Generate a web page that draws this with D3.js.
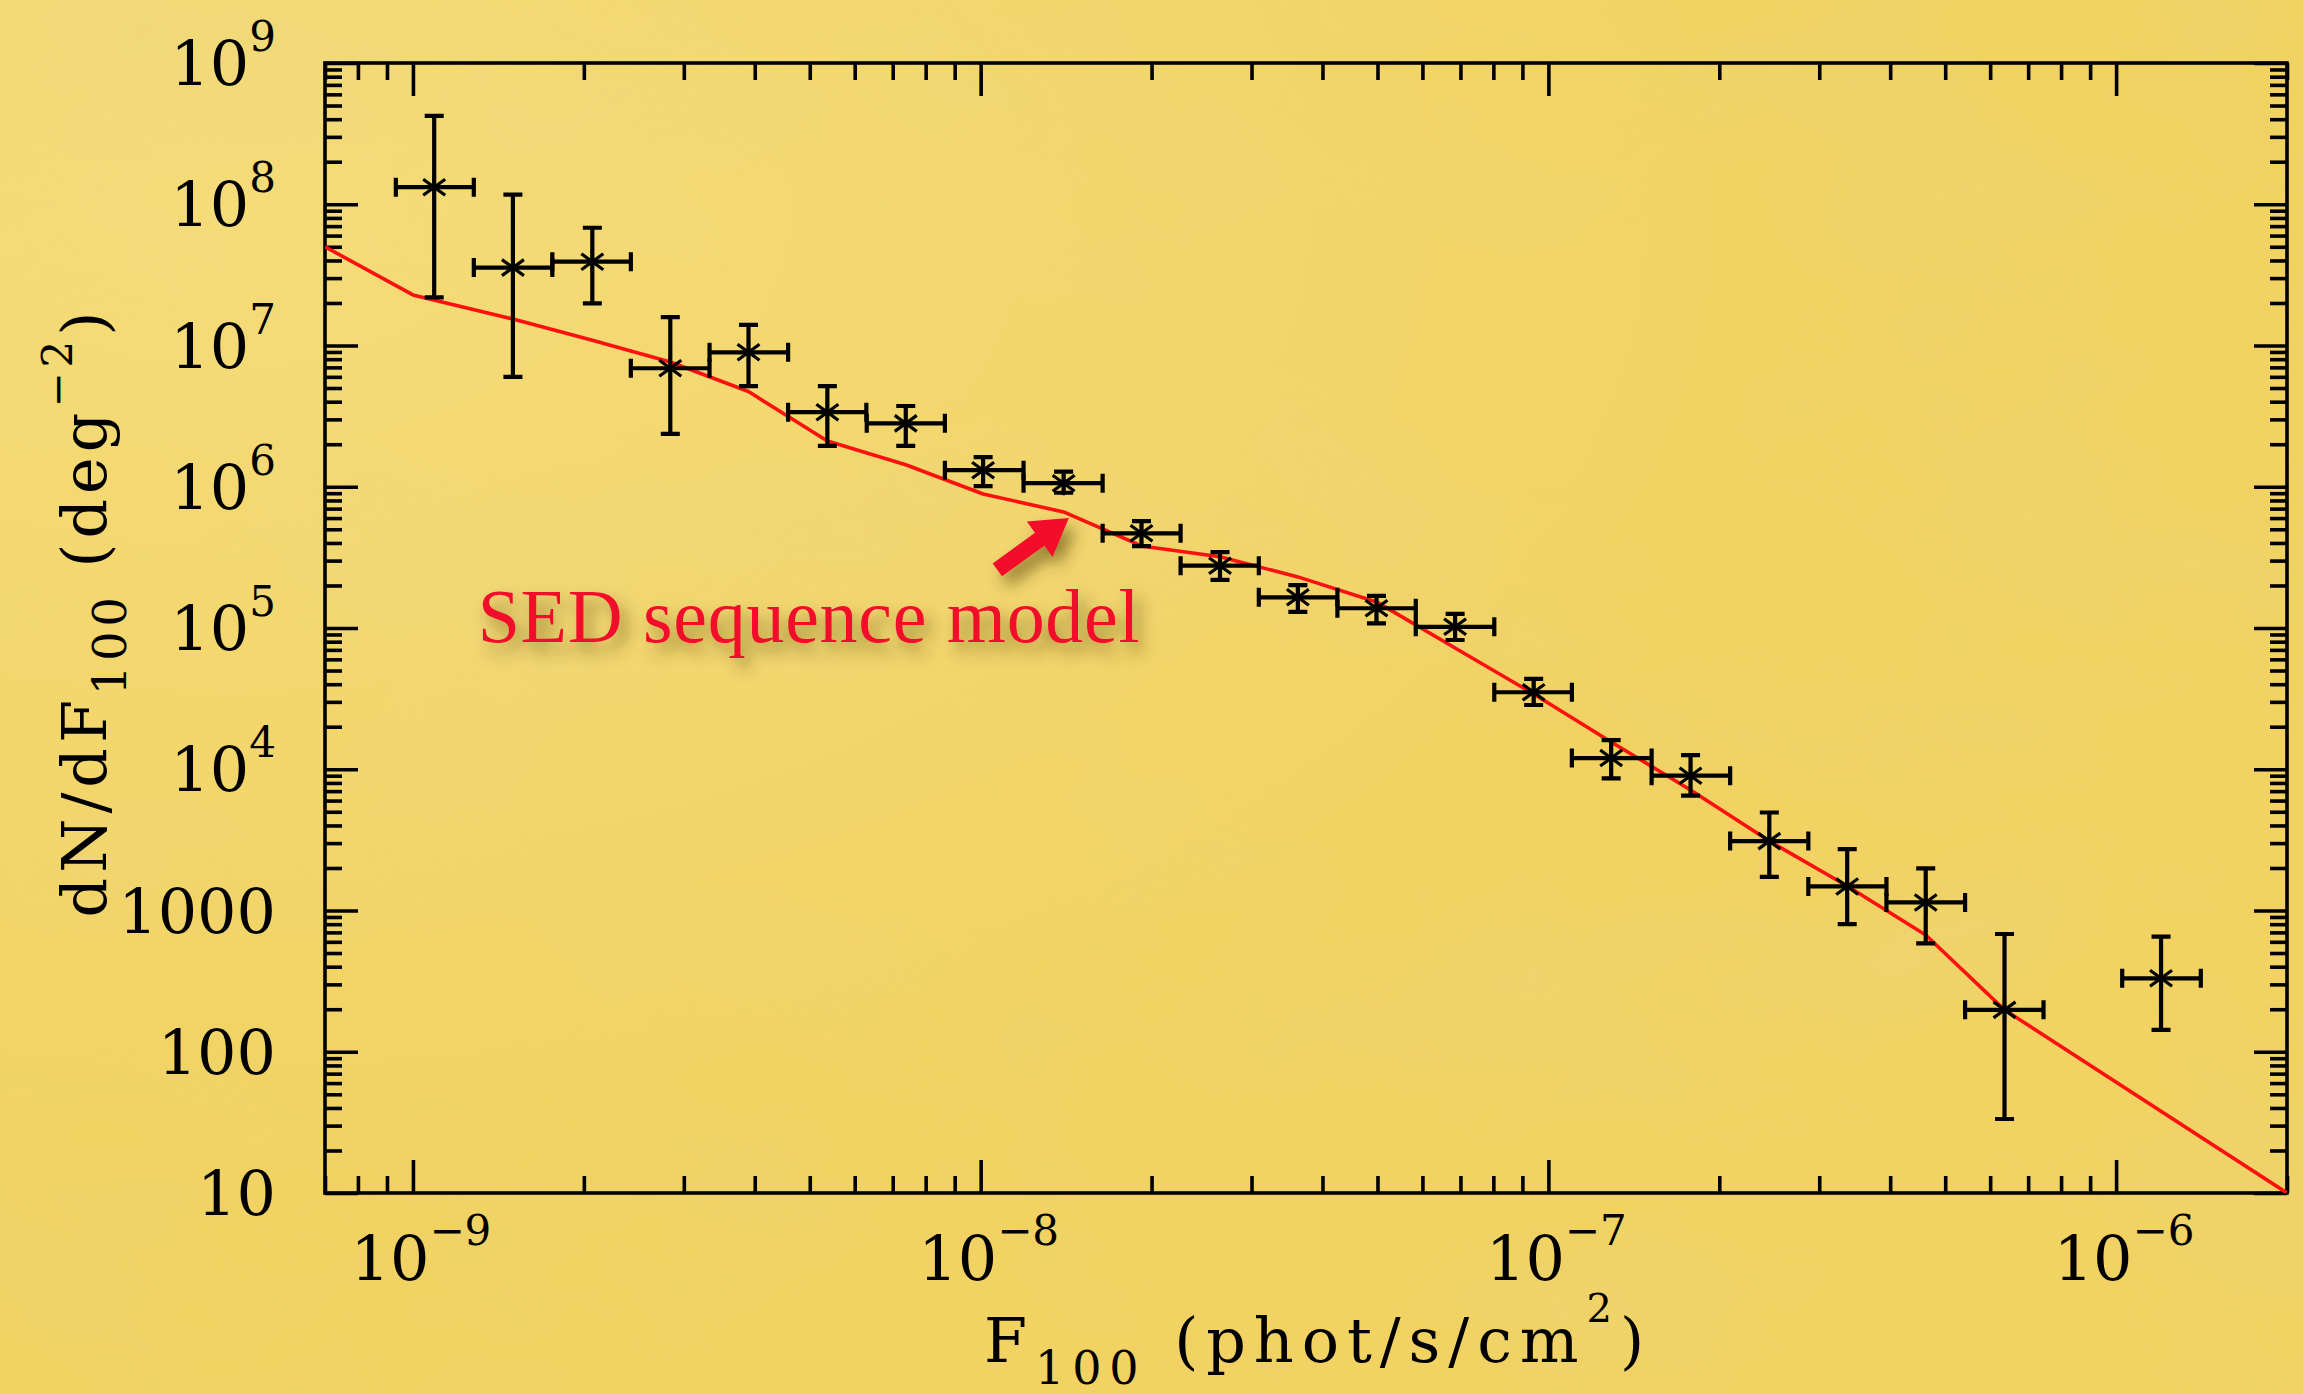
<!DOCTYPE html>
<html>
<head>
<meta charset="utf-8">
<script src="https://cdn.jsdelivr.net/npm/d3@7"></script>
<style>
  html, body { margin: 0; padding: 0; background: #f0d062; overflow: hidden; }
  svg { display: block; }
  .lbl { font-family: "DejaVu Serif", serif; fill: #000; }
</style>
</head>
<body>
<div id="vis"></div>
<script>
// ---- data ----
// flux bins (phot/s/cm^2): centre, lower and upper bin edge
var fluxMid  = [1.09e-9, 1.50e-9, 2.07e-9, 2.84e-9, 3.90e-9, 5.37e-9, 7.38e-9, 1.01e-8, 1.40e-8, 1.92e-8, 2.64e-8,
                3.62e-8, 4.98e-8, 6.85e-8, 9.42e-8, 1.29e-7, 1.78e-7, 2.45e-7, 3.36e-7, 4.62e-7, 6.36e-7, 1.20e-6];
var fluxLow  = [9.33e-10, 1.28e-9, 1.76e-9, 2.42e-9, 3.33e-9, 4.58e-9, 6.30e-9, 8.65e-9, 1.19e-8, 1.64e-8, 2.25e-8,
                3.09e-8, 4.25e-8, 5.84e-8, 8.03e-8, 1.10e-7, 1.52e-7, 2.09e-7, 2.87e-7, 3.94e-7, 5.42e-7, 1.025e-6];
var fluxHigh = [1.28e-9, 1.76e-9, 2.42e-9, 3.33e-9, 4.58e-9, 6.29e-9, 8.65e-9, 1.19e-8, 1.64e-8, 2.25e-8, 3.09e-8,
                4.25e-8, 5.84e-8, 8.03e-8, 1.10e-7, 1.52e-7, 2.09e-7, 2.87e-7, 3.94e-7, 5.42e-7, 7.45e-7, 1.41e-6];

// dN/dF100 (deg^-2) with error range
var dnDf     = [1.32e8, 3.56e7, 3.92e7, 6.90e6, 8.95e6, 3.37e6, 2.81e6, 1.31e6, 1.06e6, 4.68e5, 2.76e5,
                1.65e5, 1.38e5, 1.02e5, 3.51e4, 1.20e4, 9.0e3, 3.10e3, 1.48e3, 1.14e3, 198, 331];
var dnDfLow  = [2.19e7, 6.0e6, 1.99e7, 2.37e6, 5.16e6, 1.95e6, 1.95e6, 1.01e6, 9.07e5, 3.80e5, 2.19e5,
                1.30e5, 1.08e5, 8.22e4, 2.85e4, 8.63e3, 6.50e3, 1.73e3, 802, 586, 33.4, 143];
var dnDfHigh = [4.22e8, 1.17e8, 6.82e7, 1.59e7, 1.40e7, 5.16e6, 3.73e6, 1.62e6, 1.28e6, 5.71e5, 3.44e5,
                2.01e5, 1.69e5, 1.26e5, 4.36e4, 1.61e4, 1.26e4, 4.94e3, 2.72e3, 1.99e3, 682, 653];

// SED sequence model curve
var modelFlux = [7e-10, 1.0e-9, 1.50e-9, 2.07e-9, 2.84e-9, 3.90e-9, 5.37e-9, 7.38e-9, 1.01e-8, 1.40e-8, 1.92e-8, 2.64e-8,
                 3.62e-8, 4.98e-8, 6.85e-8, 9.42e-8, 1.29e-7, 1.78e-7, 2.45e-7, 3.36e-7, 4.62e-7, 6.36e-7, 2e-6];
var modelN    = [5.0e7, 2.28e7, 1.54e7, 1.09e7, 7.64e6, 4.72e6, 2.11e6, 1.43e6, 8.89e5, 6.63e5, 3.81e5, 3.19e5,
                 2.30e5, 1.53e5, 7.21e4, 3.41e4, 1.56e4, 7.13e3, 3.10e3, 1.49e3, 671, 198, 10];

// axis ticks and their labels [base, exponent]
var xDomain = [7e-10, 2e-6];
var yDomain = [10, 1e9];
var xTickValues = [1e-9, 1e-8, 1e-7, 1e-6];
var xTickLabels = [["10", "\u22129"], ["10", "\u22128"], ["10", "\u22127"], ["10", "\u22126"]];
var yTickValues = [10, 100, 1000, 1e4, 1e5, 1e6, 1e7, 1e8, 1e9];
var yTickLabels = [["10", ""], ["100", ""], ["1000", ""], ["10", "4"], ["10", "5"], ["10", "6"], ["10", "7"], ["10", "8"], ["10", "9"]];

// annotation: text anchor and arrow tail/tip in data units
var noteText = "SED sequence model";
var noteAt = [1.30e-9, 7.96e4];
var arrowTail = [1.07e-8, 2.58e5];
var arrowTip = [1.43e-8, 6.0e5];

// ---- layout ----
var W = 2303, H = 1394;
var margin = {left: 325, right: 16, top: 63, bottom: 201};
var w = W - margin.left - margin.right,
    h = H - margin.top - margin.bottom;
var lw = 3.6;

var svg = d3.select("#vis").append("svg").attr("width", W).attr("height", H);
var defs = svg.append("defs");

// paper texture
var paper = defs.append("filter").attr("id", "paper")
    .attr("x", 0).attr("y", 0).attr("width", "100%").attr("height", "100%");
paper.append("feTurbulence").attr("type", "fractalNoise")
    .attr("baseFrequency", "0.0028 0.0045").attr("numOctaves", 4).attr("seed", 5);
paper.append("feColorMatrix").attr("type", "matrix")
    .attr("values", "0 0 0 0 0.82  0 0 0 0 0.68  0 0 0 0 0.22  1.5 0 0 0 -0.66");

var glow = defs.append("radialGradient").attr("id", "glow")
    .attr("cx", "10%").attr("cy", "15%").attr("r", "70%");
glow.append("stop").attr("offset", "0%").attr("stop-color", "#fff3b0").attr("stop-opacity", 0.3);
glow.append("stop").attr("offset", "100%").attr("stop-color", "#fff3b0").attr("stop-opacity", 0);

var shadow = defs.append("filter").attr("id", "shadow")
    .attr("x", "-20%").attr("y", "-50%").attr("width", "150%").attr("height", "220%");
shadow.append("feDropShadow").attr("dx", 7).attr("dy", 10).attr("stdDeviation", 8)
    .attr("flood-color", "#4a3600").attr("flood-opacity", 0.55);

defs.append("clipPath").attr("id", "plotclip").append("rect")
    .attr("width", w).attr("height", h);

svg.append("rect").attr("width", W).attr("height", H).attr("fill", "#f1d262");
svg.append("rect").attr("width", W).attr("height", H).attr("fill", "url(#glow)");
svg.append("rect").attr("width", W).attr("height", H).attr("filter", "url(#paper)").attr("opacity", 0.45);

var g = svg.append("g").attr("transform", "translate(" + margin.left + "," + margin.top + ")");

var x = d3.scaleLog().domain(xDomain).range([0, w]);
var y = d3.scaleLog().domain(yDomain).range([h, 0]);

// minor ticks: the scale's own 1..9 ticks minus the decades
var isDecade = function(v) { return Math.abs(Math.log10(v) - Math.round(Math.log10(v))) < 1e-6; };
var xMinor = x.ticks().filter(function(v) { return !isDecade(v); });
var yMinor = y.ticks().filter(function(v) { return !isDecade(v); });

function styleAxis(sel) {
    sel.select(".domain").remove();
    sel.selectAll(".tick line").attr("stroke", "#000").attr("stroke-width", lw);
}

// inward ticks on all four sides
[[d3.axisBottom, "translate(0," + h + ")"], [d3.axisTop, "translate(0,0)"]].forEach(function(a) {
    g.append("g").attr("transform", a[1])
        .call(a[0](x).tickValues(xTickValues).tickSize(-33).tickFormat("")).call(styleAxis);
    g.append("g").attr("transform", a[1])
        .call(a[0](x).tickValues(xMinor).tickSize(-17).tickFormat("")).call(styleAxis);
});
[[d3.axisLeft, "translate(0,0)"], [d3.axisRight, "translate(" + w + ",0)"]].forEach(function(a) {
    g.append("g").attr("transform", a[1])
        .call(a[0](y).tickValues(yTickValues).tickSize(-33).tickFormat("")).call(styleAxis);
    g.append("g").attr("transform", a[1])
        .call(a[0](y).tickValues(yMinor).tickSize(-17).tickFormat("")).call(styleAxis);
});

g.append("rect").attr("width", w).attr("height", h)
    .attr("fill", "none").attr("stroke", "#000").attr("stroke-width", lw);

// tick labels with superscripts
var xl = g.selectAll(".xlab").data(xTickValues).enter().append("text")
    .attr("class", "lbl xlab")
    .attr("x", function(d) { return x(d) + 8; })
    .attr("y", h + 87)
    .attr("text-anchor", "middle")
    .style("font-size", "62px");
xl.append("tspan").text(function(d) { return xTickLabels[xTickValues.indexOf(d)][0]; });
xl.append("tspan").attr("dy", -35).style("font-size", "42px")
    .text(function(d) { return xTickLabels[xTickValues.indexOf(d)][1]; });

var yl = g.selectAll(".ylab").data(yTickValues).enter().append("text")
    .attr("class", "lbl ylab")
    .attr("x", -49)
    .attr("y", function(d) { return y(d) + 22; })
    .attr("text-anchor", "end")
    .style("font-size", "62px");
yl.append("tspan").text(function(d) { return yTickLabels[yTickValues.indexOf(d)][0]; });
yl.filter(function(d) { return yTickLabels[yTickValues.indexOf(d)][1] !== ""; })
    .append("tspan").attr("dy", -34).style("font-size", "42px")
    .text(function(d) { return yTickLabels[yTickValues.indexOf(d)][1]; });

// axis titles
var xt = svg.append("text").attr("class", "lbl")
    .attr("x", 1318).attr("y", 1362).attr("text-anchor", "middle").style("font-size", "62px");
xt.append("tspan").text("F");
xt.append("tspan").attr("dy", 22).style("font-size", "46px").text("100");
xt.append("tspan").attr("dy", -22).text(" (phot/s/cm");
xt.append("tspan").attr("dy", -40).style("font-size", "40px").text("2");
xt.append("tspan").attr("dy", 40).text(")");

var yt = svg.append("text").attr("class", "lbl")
    .attr("transform", "translate(106,612) rotate(-90)")
    .attr("text-anchor", "middle").style("font-size", "62px");
yt.append("tspan").text("dN/dF");
yt.append("tspan").attr("dy", 20).style("font-size", "46px").text("100");
yt.append("tspan").attr("dy", -20).text(" (deg");
yt.append("tspan").attr("dy", -34).style("font-size", "42px").text("\u22122");
yt.append("tspan").attr("dy", 34).text(")");

// stretch the titles out to the width they have in the figure
function fitWidth(t, target) {
    var n = t.text().length;
    var len = t.node().getComputedTextLength();
    t.style("letter-spacing", ((target - len) / n) + "px");
}
fitWidth(xt, 668);
fitWidth(yt, 611);

// model curve
var line = d3.line()
    .x(function(d, i) { return x(modelFlux[i]); })
    .y(function(d) { return y(d); });
g.append("path").datum(modelN)
    .attr("clip-path", "url(#plotclip)")
    .attr("d", line)
    .attr("fill", "none").attr("stroke", "#ff1010").attr("stroke-width", 3.6)
    .attr("stroke-linejoin", "round");

// data points: error crosses + asterisk marker
var pts = g.selectAll(".pt").data(fluxMid).enter().append("g").attr("class", "pt")
    .attr("stroke", "#000").attr("stroke-width", 4.2).attr("fill", "none");
var cap = 9.5;
pts.append("path").attr("d", function(d, i) {
    var cx = x(d), cy = y(dnDf[i]);
    var x0 = x(fluxLow[i]), x1 = x(fluxHigh[i]);
    var y0 = y(dnDfLow[i]), y1 = y(dnDfHigh[i]);
    return "M" + x0 + "," + cy + "H" + x1 +
        "M" + x0 + "," + (cy - cap) + "V" + (cy + cap) +
        "M" + x1 + "," + (cy - cap) + "V" + (cy + cap) +
        "M" + cx + "," + y0 + "V" + y1 +
        "M" + (cx - cap) + "," + y0 + "H" + (cx + cap) +
        "M" + (cx - cap) + "," + y1 + "H" + (cx + cap);
});
pts.append("path").attr("stroke-width", 3.2).attr("d", function(d, i) {
    var cx = x(d), cy = y(dnDf[i]);
    return "M" + (cx - 11) + "," + (cy - 8) + "L" + (cx + 11) + "," + (cy + 8) +
        "M" + (cx - 11) + "," + (cy + 8) + "L" + (cx + 11) + "," + (cy - 8) +
        "M" + cx + "," + (cy - 12) + "V" + (cy + 12);
});

// annotation
var note = g.append("g").attr("filter", "url(#shadow)");
note.append("text")
    .attr("x", x(noteAt[0])).attr("y", y(noteAt[1]))
    .attr("textLength", 662).attr("lengthAdjust", "spacing")
    .style("font-family", "'Liberation Serif', serif").style("font-size", "76px")
    .attr("fill", "#f2102c").text(noteText);

var tx = x(arrowTail[0]), ty = y(arrowTail[1]);
var px = x(arrowTip[0]), py = y(arrowTip[1]);
var len = Math.hypot(px - tx, py - ty);
var ux = (px - tx) / len, uy = (py - ty) / len;
var nx = -uy, ny = ux;
var headLen = 36, headHalf = 22, shaftHalf = 8;
var bx = px - headLen * ux, by = py - headLen * uy;
var arrowPts = [
    [tx + shaftHalf * nx, ty + shaftHalf * ny],
    [bx + shaftHalf * nx, by + shaftHalf * ny],
    [bx + headHalf * nx, by + headHalf * ny],
    [px, py],
    [bx - headHalf * nx, by - headHalf * ny],
    [bx - shaftHalf * nx, by - shaftHalf * ny],
    [tx - shaftHalf * nx, ty - shaftHalf * ny]
];
note.append("polygon").attr("points", arrowPts.map(function(p) { return p.join(","); }).join(" "))
    .attr("fill", "#f2102c");
</script>
</body>
</html>
